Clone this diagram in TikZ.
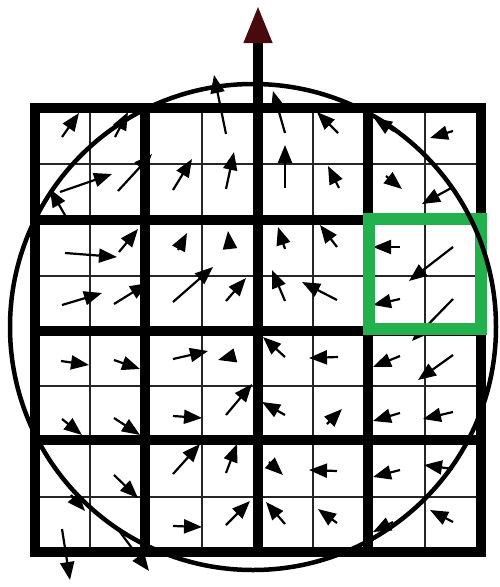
\documentclass[tikz,border=0pt]{standalone}
\usepackage{tikz}
\usetikzlibrary{arrows.meta}
\definecolor{axisred}{RGB}{72,10,12}
\definecolor{boxgreen}{RGB}{34,177,76}

\begin{document}
\begin{tikzpicture}[x=1pt, y=-1pt,
  fine/.style={line width=1.6pt, black!85},
  bold/.style={line width=9.5pt, line cap=rect},
  vec/.style={line width=2.2pt, -{Triangle[length=18pt, width=14pt]}},
]
  \useasboundingbox (0,0) rectangle (500,587);
  % sub-cells
  \foreach \xg in {90,202,313,425} \draw[fine] (\xg,108) -- (\xg,552);
  \foreach \yg in {164,276,386,497} \draw[fine] (35,\yg) -- (481,\yg);
  % cells
  \foreach \xg in {35,145,368,481} \draw[bold] (\xg,108) -- (\xg,552);
  \foreach \yg in {108,220,331,440,552} \draw[bold] (35,\yg) -- (481,\yg);
  % gradient samples: tail / tip
  \foreach \xa/\ya/\xb/\yb in {%
    62/137/79/113, 115/137/128/112, 60/192/112/174, 70/224/50/189,
    118/191/152/154, 173/190/192/159, 226/134/214/75, 226/189/234/152,
    285/133/273/91, 285/188/285/145, 338/133/317/112, 339/188/328/166,
    394/131/374/118, 386/176/402/189, 453/131/430/138, 453/187/422/204,%
    65/253/117/257, 119/252/138/229, 62/305/102/293, 114/304/148/283,
    178/250/187/233, 230/249/228/231, 173/302/213/267, 226/301/246/278,
    285/249/278/227, 337/247/320/225, 285/301/272/270, 337/300/302/282,
    400/247/373/247, 453/247/409/281, 400/299/373/305, 453/299/412/341,%
    61/361/89/365, 114/360/140/369, 173/359/208/351, 233/356/218/360,
    62/419/82/435, 114/418/140/435, 173/416/202/418, 226/415/252/384,
    285/357/263/337, 338/357/309/358, 400/356/373/367, 453/355/418/380,
    285/415/262/402, 327/424/342/409, 400/413/373/421, 453/412/423/419,%
    71/495/85/511, 114/475/138/498, 62/529/70/580, 117/528/149/571,
    173/474/200/444, 226/473/237/444, 173/526/202/527, 226/525/250/501,
    269/462/283/475, 337/471/309/470, 400/470/373/477, 453/469/424/465,
    285/524/266/502, 337/523/318/509, 393/522/373/532, 453/522/430/510%
  } {
    \draw[vec] (\xa,\ya) -- (\xb,\yb);
  }
  % highlighted region
  \draw[boxgreen, line width=12pt, line cap=rect] (369,219) rectangle (481,329);
  \draw[line width=4.5pt] (253,327) circle[radius=243pt];
  % dominant orientation
  \draw[line width=10pt, -{Triangle[length=38pt, width=26pt, color=axisred]}] (258,552) -- (258,5);
\end{tikzpicture}
\end{document}
